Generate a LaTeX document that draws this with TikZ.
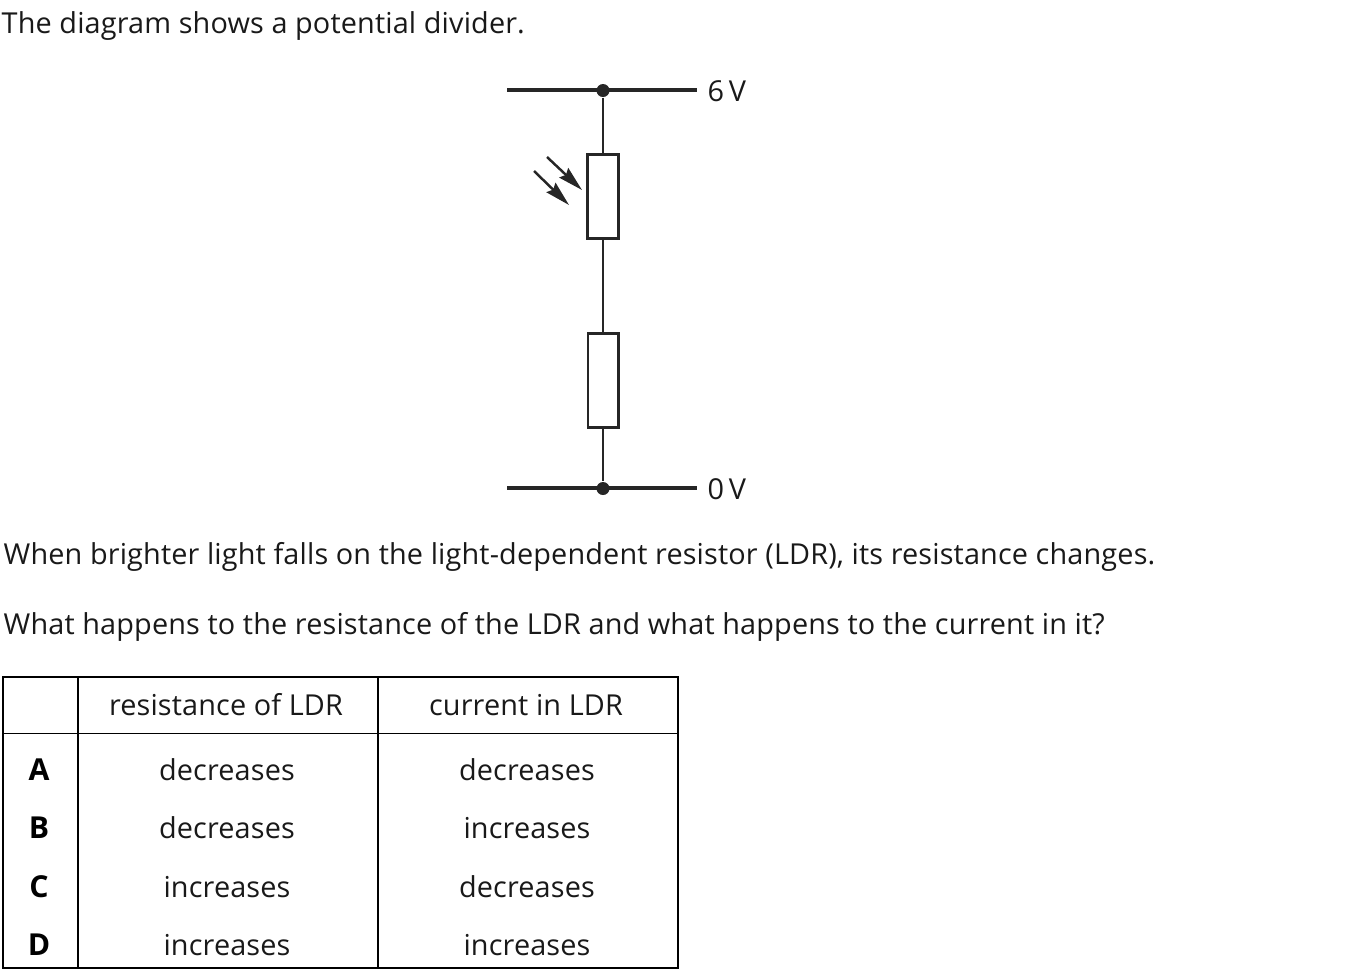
\documentclass[tikz,border=0pt]{standalone}
\usepackage{fontspec}
\setmainfont{Open Sans}[LetterSpace=0.5]
\usetikzlibrary{calc}
\usetikzlibrary{arrows.meta}
\tikzset{
  wire/.style={line width=0.8pt,color=black!85},
  rail/.style={line width=0.9pt,color=black!85},
  res/.style={draw=black!85,line width=0.85pt,fill=white,inner sep=0pt},
  dot/.style={circle,fill=black!85,inner sep=0pt,minimum size=0.13cm},
  ray/.style={line width=0.7pt,color=black!85,-{Stealth[length=0.25cm,width=0.13cm,inset=0.03cm]}},
  txt/.style={anchor=base west,inner sep=0pt,font=\fontsize{8.2}{10}\selectfont,color=black!90},
  cell/.style={anchor=base,inner sep=0pt,font=\fontsize{8.2}{10}\selectfont,color=black!90},
  key/.style={anchor=base,inner sep=0pt,font=\fontsize{8.6}{10}\selectfont\bfseries,color=black},
  tabline/.style={line width=0.6pt,color=black}
}
\begin{document}
\begin{tikzpicture}[x=0.01cm,y=-0.01cm]
    \useasboundingbox (0,0) rectangle (1355,978);

    % wording
    \node[txt] (intro) at (1,33) {The diagram shows a potential divider.};
    \node[txt] (when) at (3,564) {When brighter light falls on the light-dependent resistor (LDR), its resistance changes.};
    \node[txt] (what) at (3,634) {What happens to the resistance of the LDR and what happens to the current in it?};

    % rails
    \coordinate (TL) at (507,90);
    \coordinate (TR) at (697,90);
    \coordinate (BL) at (507,488);
    \coordinate (BR) at (697,488);
    \node[dot] (top) at (603,90.5) {};
    \node[dot] (bot) at (603,488.5) {};
    \draw[rail] (TL) -- (TR);
    \draw[rail] (BL) -- (BR);
    \node[txt] (six) at (707,101) {6\,V};
    \node[txt] (zero) at (707,499) {0\,V};

    % resistors
    \node[res,minimum width=0.31cm,minimum height=0.84cm] (ldr) at (603,196.5) {};
    \node[res,minimum width=0.30cm,minimum height=0.94cm] (fix) at (603,380.5) {};
    \draw[wire] (top) -- (ldr);
    \draw[wire] (ldr) -- (fix);
    \draw[wire] (fix) -- (bot);

    % light
    \coordinate (R1a) at (547,157);
    \coordinate (R1b) at (582,190);
    \coordinate (R2a) at (534,171);
    \coordinate (R2b) at (569,205);
    \draw[ray] (R1a) -- (R1b);
    \draw[ray] (R2a) -- (R2b);

    % table
    \draw[tabline] (3,677) rectangle (678,968);
    \draw[tabline] (78,677) -- (78,968);
    \draw[tabline] (378,677) -- (378,968);
    \draw[line width=0.35pt] (3,733.5) -- (678,733.5);

    \node[cell] (h1) at (226,715) {resistance of LDR};
    \node[cell] (h2) at (526,715) {current in LDR};

    \node[key] (A) at (39,780) {A};
    \node[cell] (A1) at (227,780) {decreases};
    \node[cell] (A2) at (527,780) {decreases};
    \node[key] (B) at (39,838) {B};
    \node[cell] (B1) at (227,838) {decreases};
    \node[cell] (B2) at (527,838) {increases};
    \node[key] (C) at (39,897) {C};
    \node[cell] (C1) at (227,897) {increases};
    \node[cell] (C2) at (527,897) {decreases};
    \node[key] (D) at (39,955) {D};
    \node[cell] (D1) at (227,955) {increases};
    \node[cell] (D2) at (527,955) {increases};
\end{tikzpicture}
\end{document}
